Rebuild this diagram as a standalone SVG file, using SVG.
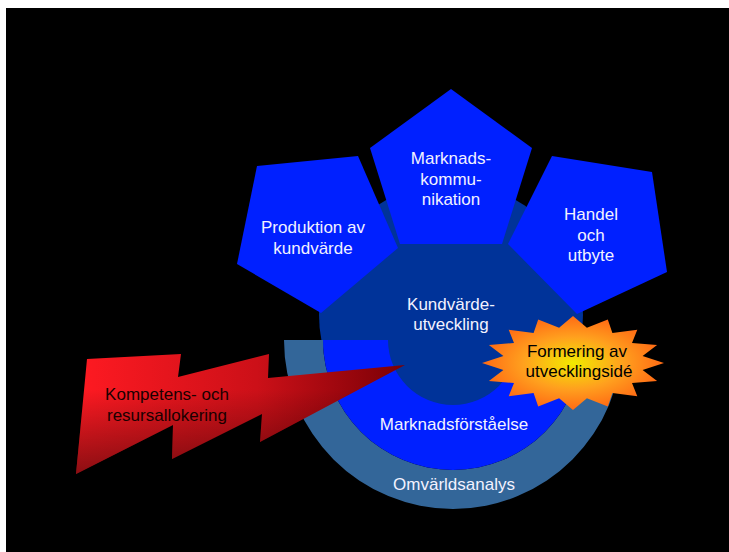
<svg xmlns="http://www.w3.org/2000/svg" width="729" height="552" viewBox="0 0 729 552">
<defs>
<style>
.t{font-family:"Liberation Sans",Arial,sans-serif;font-size:17px;text-anchor:middle}
.w{fill:#f2f2ff}
.k{fill:#000000}
.bk{fill:#1a0000}
.pent{fill:#0020ff}
</style>
<linearGradient id="boltH" gradientUnits="userSpaceOnUse" x1="76" y1="0" x2="405" y2="0">
<stop offset="0" stop-color="#ff1a22"/>
<stop offset="0.55" stop-color="#cc1018"/>
<stop offset="1" stop-color="#7a0006"/>
</linearGradient>
<linearGradient id="boltV" gradientUnits="userSpaceOnUse" x1="0" y1="390" x2="0" y2="474">
<stop offset="0" stop-color="#000" stop-opacity="0"/>
<stop offset="1" stop-color="#000" stop-opacity="0.45"/>
</linearGradient>
<radialGradient id="star" cx="573" cy="363" r="91" gradientUnits="userSpaceOnUse" gradientTransform="translate(573 363) scale(1 0.52) translate(-573 -363)">
<stop offset="0" stop-color="#f2ea00"/>
<stop offset="0.55" stop-color="#ffa01e"/>
<stop offset="1" stop-color="#ff6a14"/>
</radialGradient>
</defs>
<rect x="6" y="8" width="723" height="544" fill="#000"/>

<g id="kundvarde">
<circle cx="451" cy="315" r="132" fill="#003399"/>
</g>

<g id="produktion">
<polygon class="pent" points="257,166 358,156 398,248 321,313 237,264"/>
<text class="t w" x="313" y="233">Produktion av</text>
<text class="t w" x="313" y="254">kundvärde</text>
</g>

<g id="marknadskommunikation">
<polygon class="pent" points="451,89 532,148 502,244 400,244 370,148"/>
<text class="t w" x="451" y="164">Marknads-</text>
<text class="t w" x="451" y="185">kommu-</text>
<text class="t w" x="451" y="205">nikation</text>
</g>

<g id="handel">
<polygon class="pent" points="552,156 652,172 667,272 577,314 508,244"/>
<text class="t w" x="591" y="220">Handel</text>
<text class="t w" x="591" y="241">och</text>
<text class="t w" x="591" y="261">utbyte</text>
</g>

<g id="omvarldsanalys">
<path d="M284,340 A169,169 0 0 0 622,340 L583,340 A130,130 0 0 1 323,340 Z" fill="#336699"/>
<text class="t w" x="454" y="490">Omvärldsanalys</text>
</g>

<g id="marknadsforstaelse">
<path d="M323,340 A130,130 0 0 0 583,340 L518,340 A65,65 0 0 1 388,340 Z" fill="#0020ff"/>
<text class="t w" x="454" y="430">Marknadsförståelse</text>
</g>

<g id="kundvarde-label">
<text class="t w" x="451" y="310">Kundvärde-</text>
<text class="t w" x="451" y="330">utveckling</text>
</g>

<g id="kompetens">
<polygon points="87,359 181,354 178,377 269,354 268,378 405,365 260,442 262,414 172,459 173,425 76,474" fill="url(#boltH)"/>
<polygon points="87,359 181,354 178,377 269,354 268,378 405,365 260,442 262,414 172,459 173,425 76,474" fill="url(#boltV)"/>
<text class="t bk" x="167" y="400">Kompetens- och</text>
<text class="t bk" x="167" y="421">resursallokering</text>
</g>

<g id="formering">
<polygon fill="url(#star)" points="573,316 586.9,327.7 607.8,319.6 612.4,333.1 637.3,329.8 632,343 657.1,345 642.6,356 664,363 642.6,370 657.1,381 632,383 637.3,396.2 612.4,392.9 607.8,406.4 586.9,398.3 573,410 559.1,398.3 538.2,406.4 533.6,392.9 508.7,396.2 514,383 488.9,381 503.4,370 482,363 503.4,356 488.9,345 514,343 508.7,329.8 533.6,333.1 538.2,319.6 559.1,327.7"/>
<text class="t k" x="577" y="357">Formering av</text>
<text class="t k" x="579" y="377">utvecklingsidé</text>
</g>

<g id="connectors"/>
</svg>
